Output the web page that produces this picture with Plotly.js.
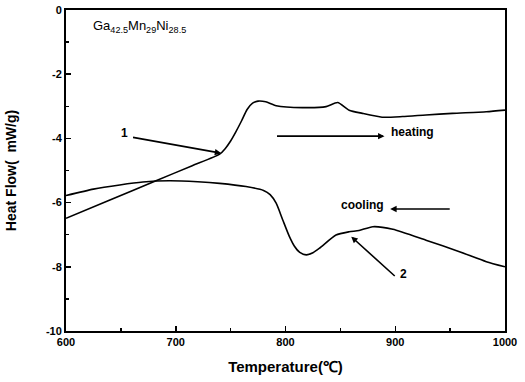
<!DOCTYPE html>
<html>
<head>
<meta charset="utf-8">
<script src="https://cdn.plot.ly/plotly-3.0.1.min.js"></script>
<style>html,body{margin:0;padding:0;background:#fff;}#chart{width:525px;height:382px;}</style>
</head>
<body>
<div id="chart"></div>
<script>
// Heating curve (Temperature, Heat Flow)
const heatingT = [600, 640, 682, 715, 740, 745, 750, 755, 760, 765, 770, 775, 782, 791.5, 815.5, 837, 847.5, 858, 870, 888, 906.6, 928, 952, 983, 1000];
const heatingH = [-6.49, -5.92, -5.32, -4.85, -4.49, -4.32, -4.08, -3.78, -3.45, -3.1, -2.9, -2.84, -2.86, -2.98, -3.04, -3.01, -2.88, -3.12, -3.22, -3.34, -3.32, -3.27, -3.22, -3.17, -3.12];
// Cooling curve
const coolingT = [600, 625, 649, 670, 694, 720, 740, 764, 780, 786, 791.5, 797.5, 803.6, 808, 813, 819, 825, 831, 846, 858, 867, 879.5, 897.8, 928, 958.5, 983, 1000];
const coolingH = [-5.78, -5.58, -5.45, -5.36, -5.32, -5.35, -5.40, -5.50, -5.62, -5.75, -6.02, -6.54, -7.06, -7.35, -7.55, -7.63, -7.56, -7.42, -7.01, -6.91, -6.87, -6.75, -6.83, -7.17, -7.53, -7.84, -8.0];
const xTickVals = [600, 700, 800, 900, 1000];
const yTickVals = [0, -2, -4, -6, -8, -10];
const yTickText = ['0', '-2', '-4', '-6', '-8', '-10'];

const F = 'Liberation Sans, Arial, sans-serif';
const traces = [
  {x: heatingT, y: heatingH, mode: 'lines', line: {color: '#000', width: 1.6, shape: 'spline', smoothing: 0.6}, showlegend: false, hoverinfo: 'skip'},
  {x: coolingT, y: coolingH, mode: 'lines', line: {color: '#000', width: 1.6, shape: 'spline', smoothing: 0.6}, showlegend: false, hoverinfo: 'skip'}
];
const annFont = {family: F, size: 12, color: '#000', weight: 'bold'};
const arrow = (x, y, ax, ay) => ({x, y, ax, ay, xref: 'x', yref: 'y', axref: 'x', ayref: 'y', text: '', showarrow: true, arrowhead: 2, arrowsize: 0.8, arrowwidth: 1.6, arrowcolor: '#000'});
const layout = {
  width: 525, height: 382,
  margin: {l: 66, r: 20, t: 10, b: 51},
  paper_bgcolor: '#fff', plot_bgcolor: '#fff',
  font: {family: F, color: '#000'},
  xaxis: {
    range: [600, 1000], tickvals: xTickVals, ticktext: xTickVals.map(String),
    ticks: 'inside', ticklen: 5, tickwidth: 1.5, tickcolor: '#000',
    minor: {dtick: 50, ticks: 'inside', ticklen: 3, tickwidth: 1.5, tickcolor: '#000'},
    showline: true, linewidth: 2, linecolor: '#000', mirror: true, showgrid: false, zeroline: false,
    tickfont: {family: F, size: 11, weight: 'bold'},
    title: {text: 'Temperature(℃)', font: {family: F, size: 15, weight: 'bold'}, standoff: 14}
  },
  yaxis: {
    range: [-10, 0], tickvals: yTickVals, ticktext: yTickText,
    ticks: 'inside', ticklen: 5, tickwidth: 1.5, tickcolor: '#000',
    minor: {dtick: 1, ticks: 'inside', ticklen: 3, tickwidth: 1.5, tickcolor: '#000'},
    showline: true, linewidth: 2, linecolor: '#000', mirror: true, showgrid: false, zeroline: false,
    tickfont: {family: F, size: 11, weight: 'bold'},
    title: {text: 'Heat Flow(  mW/g)', font: {family: F, size: 14, weight: 'bold'}, standoff: 26}
  },
  annotations: [
    {x: 667, y: -0.5, xref: 'x', yref: 'y', showarrow: false, text: 'Ga<sub>42.5</sub>Mn<sub>29</sub>Ni<sub>28.5</sub>', font: {family: F, size: 13, color: '#000'}},
    {x: 653.3, y: -3.83, xref: 'x', yref: 'y', showarrow: false, text: '1', font: annFont},
    arrow(741.4, -4.46, 659.7, -3.96),
    arrow(890.2, -3.93, 790.9, -3.93),
    {x: 915.5, y: -3.79, xref: 'x', yref: 'y', showarrow: false, text: 'heating', font: annFont},
    arrow(895.4, -6.2, 951, -6.2),
    {x: 869.9, y: -6.07, xref: 'x', yref: 'y', showarrow: false, text: 'cooling', font: annFont},
    arrow(859.9, -7.06, 900.9, -8.33),
    {x: 907.5, y: -8.22, xref: 'x', yref: 'y', showarrow: false, text: '2', font: annFont}
  ]
};
Plotly.newPlot('chart', traces, layout, {staticPlot: true, displayModeBar: false});
</script>
</body>
</html>
